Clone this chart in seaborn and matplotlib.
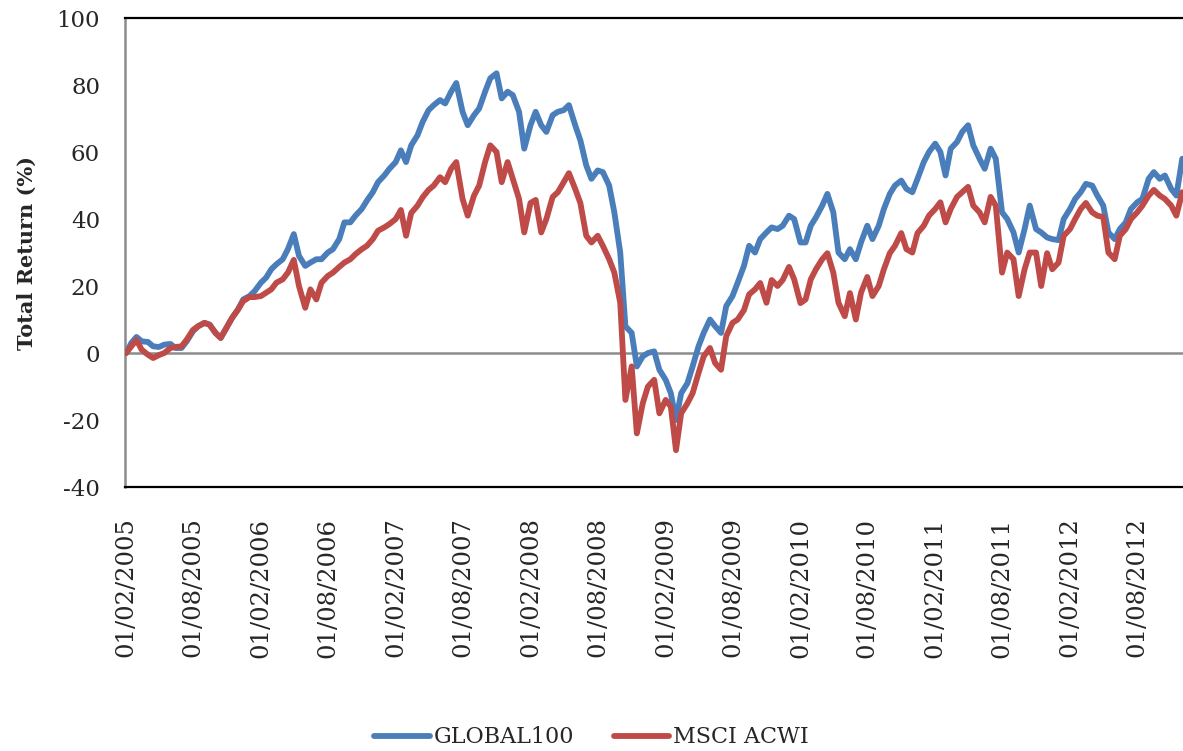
import pandas as pd
import matplotlib.pyplot as plt
import matplotlib.dates as mdates
import seaborn as sns

# semi-monthly readings, 01/02/2005 to 01/12/2012
dates = pd.date_range('2005-02-01', periods=189, freq='SMS')

global100 = [
    0, 3, 4.8, 3.5, 3.3, 2, 1.8, 2.5, 2.7, 1.5, 1.5, 3.5,
    6.5, 8, 9, 8.5, 6, 4.5, 7.8, 10.5, 13, 16, 17, 18.5,
    21, 22.5, 25, 26.5, 28, 31, 35.5, 29, 26, 27, 28, 28,
    30, 31, 34, 39, 39, 41, 43, 45.5, 48, 51, 53, 55,
    57, 60.5, 57, 62, 65, 69, 72.5, 74, 75.5, 74.5, 78, 80.6,
    72, 68, 71, 73, 78, 82, 83.5, 76, 78, 77, 72, 61,
    68, 72, 68, 66, 71, 72, 72.5, 74, 68, 63.5, 56, 52,
    54.5, 54, 50, 42, 30, 8, 6, -4, -1, 0, 0.5, -5,
    -8, -12, -20, -12, -9, -4, 2, 6, 10, 8, 6, 14,
    17, 21, 26, 32, 30, 34, 36, 37.5, 37, 38, 41, 40,
    33, 33, 38, 40.5, 44, 47.5, 42, 30, 28, 31, 28, 33,
    38, 34, 38, 43, 47.5, 50, 51.5, 49, 48, 52, 57, 60,
    62.5, 60, 53, 61, 63, 66, 68, 62, 58, 55, 61, 58,
    42, 40, 36, 30, 37, 44, 37, 36, 34.5, 34, 33.7, 40,
    43, 46, 48, 50.5, 50, 47, 44, 36, 34, 37, 39, 43,
    45, 46, 52, 54, 52, 53, 49, 47, 58,
]

msci_acwi = [
    0, 2, 3.9, 1, -0.5, -1.5, -0.6, 0, 1.5, 1.8, 2, 4,
    6.9, 8, 9, 8.4, 6, 4.5, 7.8, 10.5, 13, 15.5, 16.7, 16.7,
    17, 18, 19, 21, 22, 24, 27.8, 20, 13.5, 19, 16, 21,
    23, 24, 25.7, 27, 28, 29.5, 31, 32, 34, 36.5, 37.5, 38.5,
    40, 42.7, 35, 41.8, 44, 46.5, 48.7, 50, 52.5, 51, 55, 57,
    46, 41, 47, 50, 57, 62, 60, 51, 57, 52, 46, 36,
    44.8, 45.7, 36, 40, 46.6, 48, 51, 53.7, 49, 44.8, 35, 33,
    35, 32, 28, 24, 15, -14, -4, -24, -15, -10, -8, -18,
    -14, -16, -29, -18, -15, -12, -6, -1, 1.5, -3, -5, 5,
    9, 10, 12.8, 17.5, 19, 20.9, 15, 21.8, 20, 21.8, 25.7, 22,
    14.9, 16, 22, 25, 28, 29.8, 24, 15, 11, 17.9, 10, 18,
    22.7, 17, 20, 25, 29.8, 32, 35.8, 31, 30, 35.8, 38, 41,
    43, 45, 39, 43, 46.6, 48, 49.6, 44, 42, 39, 46.6, 44,
    24, 30, 28, 17, 25, 30, 30, 20, 29.8, 25, 27, 35,
    37, 40, 43, 44.8, 42, 41, 40.6, 30, 28, 35, 37, 40,
    42, 44, 47, 48.7, 47, 46, 44, 41, 48,
]

series_names = ['GLOBAL100', 'MSCI ACWI']
colors = ['#4A7EBB', '#BE4B48']
y_ticks = [-40, -20, 0, 20, 40, 60, 80, 100]

df = pd.DataFrame({'Date': dates, 'GLOBAL100': global100, 'MSCI ACWI': msci_acwi})
long_df = df.melt(id_vars='Date', var_name='Series', value_name='Return')

sns.set_style('white')
plt.rcParams['font.family'] = ['DejaVu Serif']

fig = plt.figure(figsize=(11.83, 7.51), dpi=100)
ax = fig.add_axes([0.1057, 0.3515, 0.8943, 0.6245])

ax.axhline(0, color='#8c8c8c', lw=1.8, zorder=1)
sns.lineplot(data=long_df, x='Date', y='Return', hue='Series', hue_order=series_names,
             palette=colors, lw=4.2, ax=ax, legend=False, zorder=3)

ax.set_xlim(pd.Timestamp('2005-01-29'), pd.Timestamp('2012-12-03'))
ax.set_ylim(-40, 100)
ax.set_yticks(y_ticks)
ax.set_yticklabels([str(v) for v in y_ticks], fontsize=16.5)

ax.xaxis.set_major_locator(mdates.MonthLocator(bymonth=[2, 8], bymonthday=1))
ax.xaxis.set_major_formatter(mdates.DateFormatter('%d/%m/%Y'))
plt.setp(ax.get_xticklabels(), rotation=90, fontsize=17.5)
ax.tick_params(axis='x', length=0, pad=22)
ax.tick_params(axis='y', length=0, pad=18)

ax.set_xlabel('')
ax.set_ylabel('Total Return (%)', fontsize=15, fontweight='bold', labelpad=14)

ax.spines['right'].set_visible(False)
ax.spines['top'].set_color('black')
ax.spines['top'].set_linewidth(1.6)
ax.spines['bottom'].set_color('black')
ax.spines['bottom'].set_linewidth(1.6)
ax.spines['left'].set_color('#8c8c8c')
ax.spines['left'].set_linewidth(1.8)

handles = [plt.Line2D([], [], color=c, lw=4.2, solid_capstyle='round') for c in colors]
fig.legend(handles, series_names, loc='center', bbox_to_anchor=(0.5, 0.018), ncol=2,
           frameon=False, fontsize=16, handlelength=2.5, handletextpad=0.15, columnspacing=1.8)

fig.savefig('out.png', dpi=100)
